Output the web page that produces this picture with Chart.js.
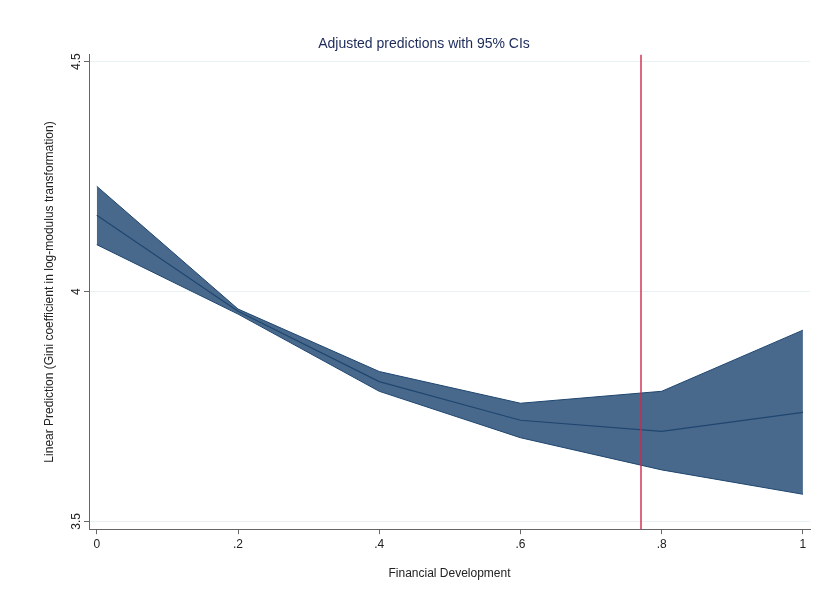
<!DOCTYPE html>
<html>
<head>
<meta charset="utf-8">
<script src="https://cdn.jsdelivr.net/npm/chart.js@4.4.1/dist/chart.umd.min.js"></script>
<style>
  html, body { margin: 0; padding: 0; background: #fff; }
  #wrap { width: 817px; height: 605px; }
</style>
</head>
<body>
<div id="wrap"><canvas id="chart" width="817" height="605"></canvas></div>
<script>
// valeurs
const finDev = [0, 0.2, 0.4, 0.6, 0.8, 1]
const predicted = [4.166, 3.957, 3.804, 3.720, 3.696, 3.737]
const ciUpper = [4.229, 3.962, 3.826, 3.757, 3.783, 3.916]
const ciLower = [4.102, 3.951, 3.783, 3.682, 3.612, 3.559]
const xTicks = [0, 0.2, 0.4, 0.6, 0.8, 1]
const yTicks = [3.5, 4, 4.5]
const threshold = 0.771

const navy = '#1f4670'
const band = '#48698b'
const font = "'Liberation Sans', Arial, sans-serif"

const pts = vals => finDev.map((x, i) => ({ x, y: vals[i] }))
const fmt = v => (v === 0 || v === 1) ? String(v) : String(v).replace(/^0/, '')

// ligne verticale rouge au seuil
const thresholdLine = {
  id: 'thresholdLine',
  afterDatasetsDraw(chart) {
    const { ctx, chartArea, scales } = chart
    const px = Math.round(scales.x.getPixelForValue(threshold))
    ctx.save()
    ctx.strokeStyle = '#d0284c'
    ctx.lineWidth = 1.4
    ctx.beginPath()
    ctx.moveTo(px, chartArea.top)
    ctx.lineTo(px, chartArea.bottom)
    ctx.stroke()
    ctx.restore()
  }
}

// etiquettes de l'axe y tournees a 90 degres (style Stata)
const yLabels = {
  id: 'yLabels',
  afterDraw(chart) {
    const { ctx, scales } = chart
    const y = scales.y
    ctx.save()
    ctx.fillStyle = '#222'
    ctx.font = '12px ' + font
    ctx.textAlign = 'center'
    ctx.textBaseline = 'middle'
    yTicks.forEach(v => {
      ctx.save()
      ctx.translate(y.right - 12, y.getPixelForValue(v))
      ctx.rotate(-Math.PI / 2)
      ctx.fillText(String(v), 0, 0)
      ctx.restore()
    })
    ctx.restore()
  }
}

new Chart(document.getElementById('chart'), {
  type: 'line',
  data: {
    datasets: [
      {
        data: pts(ciUpper),
        borderColor: navy,
        borderWidth: 1,
        backgroundColor: band,
        pointRadius: 0,
        fill: '+1',
        tension: 0,
        order: 2,
      },
      {
        data: pts(ciLower),
        borderColor: navy,
        borderWidth: 1,
        pointRadius: 0,
        fill: false,
        tension: 0,
        order: 1,
      },
      {
        data: pts(predicted),
        borderColor: navy,
        borderWidth: 1.2,
        pointRadius: 0,
        fill: false,
        tension: 0,
        order: 0,
      },
    ],
  },
  options: {
    responsive: false,
    animation: false,
    layout: { padding: { top: 36, right: 7, bottom: 20, left: 38 } },
    plugins: {
      legend: { display: false },
      tooltip: { enabled: false },
      filler: { drawTime: 'beforeDatasetsDraw' },
      title: {
        display: true,
        text: 'Adjusted predictions with 95% CIs',
        color: '#1c2a5a',
        font: { family: font, size: 14, weight: 'normal' },
        padding: { top: 0, bottom: 2 },
      },
    },
    scales: {
      x: {
        type: 'linear',
        min: -0.011,
        max: 1.01,
        afterBuildTicks: axis => { axis.ticks = xTicks.map(value => ({ value })) },
        border: { color: '#666', width: 1 },
        grid: { drawOnChartArea: false, color: '#666', tickLength: 5 },
        ticks: {
          color: '#222',
          font: { family: font, size: 12 },
          padding: 3,
          maxRotation: 0,
          callback: v => fmt(v),
        },
        title: {
          display: true,
          text: 'Financial Development',
          color: '#222',
          font: { family: font, size: 12 },
          padding: { top: 12 },
        },
      },
      y: {
        min: 3.483,
        max: 4.515,
        afterBuildTicks: axis => { axis.ticks = yTicks.map(value => ({ value })) },
        afterFit: axis => { axis.width = 51 },
        border: { color: '#666', width: 1 },
        grid: { color: '#e8f1f3', tickLength: 5, tickColor: '#666' },
        ticks: {
          color: 'transparent',
          font: { family: font, size: 12 },
          padding: 2,
          callback: v => String(v),
        },
        title: {
          display: true,
          text: 'Linear Prediction (Gini coefficient in log-modulus transformation)',
          color: '#222',
          font: { family: font, size: 12 },
          padding: { bottom: 12 },
        },
      },
    },
  },
  plugins: [thresholdLine, yLabels],
})
</script>
</body>
</html>
